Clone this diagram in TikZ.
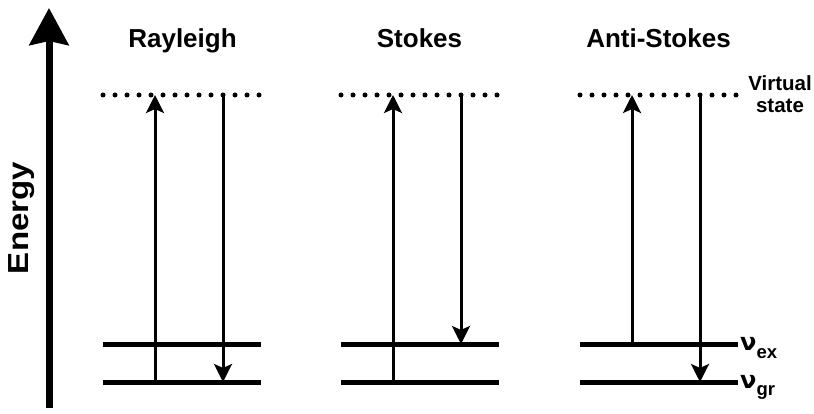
\documentclass[tikz,border=0pt]{standalone}
\usepackage{fontspec}
\setmainfont{Liberation Sans}
\newfontfamily\nufont{DejaVu Sans}
\usetikzlibrary{arrows.meta}
\begin{document}
\begin{tikzpicture}[x=1pt,y=-1pt,
  level/.style={line width=5pt},
  vstate/.style={line width=5pt, line cap=round, dash pattern=on 0pt off 12pt},
  trans/.style={line width=3pt, -{Stealth[length=18pt,width=18pt,inset=4pt]}},
  axis/.style={line width=7pt, -{Stealth[length=37pt,width=39pt,inset=4pt]}},
  title/.style={font=\fontsize{26}{30}\selectfont\bfseries, anchor=base, inner sep=0pt},
  small/.style={font=\fontsize{20.5}{24}\selectfont\bfseries, anchor=base, inner sep=0pt},
  nulab/.style={font=\fontsize{18.5}{22}\selectfont\bfseries, anchor=base west, inner sep=0pt},
]
\useasboundingbox (0,0) rectangle (814,414);
% energy axis
\coordinate (ebot) at (49,408);
\coordinate (etop) at (49,8);
\draw[axis] (ebot) -- (etop);
\node[rotate=90, anchor=base, inner sep=0pt, font=\fontsize{29}{32}\selectfont\bfseries] (energy) at (28,218) {\scalebox{1.14}[1]{Energy}};
% level coordinates
\foreach \n/\x in {R/103, S/341, A/580} {
  \coordinate (\n-vl) at (\x,95);
  \coordinate (\n-vr) at (\x+157,95);
  \coordinate (\n-el) at (\x,344);
  \coordinate (\n-er) at (\x+158,344);
  \coordinate (\n-gl) at (\x,382);
  \coordinate (\n-gr) at (\x+158,382);
  \coordinate (\n-u) at (\x+52,95);
  \coordinate (\n-d) at (\x+120,95);
}
\foreach \n in {R,S,A} {
  \draw[vstate] (\n-vl) -- (\n-vr);
  \draw[level] (\n-el) -- (\n-er);
  \draw[level] (\n-gl) -- (\n-gr);
}
% Rayleigh
\draw[trans] (R-u |- R-gl) -- (R-u);
\draw[trans] (R-d) -- (R-d |- R-gl);
% Stokes
\draw[trans] (S-u |- S-gl) -- (S-u);
\draw[trans] (S-d) -- (S-d |- S-el);
% Anti-Stokes
\draw[trans] (A-u |- A-el) -- (A-u);
\draw[trans] (A-d) -- (A-d |- A-gl);
% titles
\node[title] (tR) at (182.5,48) {Rayleigh};
\node[title] (tS) at (419.5,48) {Stokes};
\node[title] (tA) at (658.5,48) {Anti-Stokes};
\node[small] (v1) at (780,91) {Virtual};
\node[small] (v2) at (780,113) {state};
\node[nulab] (nex) at (740,350) {{\nufont\fontsize{24}{28}\selectfont\bfseries ν}\raisebox{-8pt}{ex}};
\node[nulab] (ngr) at (740,388) {{\nufont\fontsize{24}{28}\selectfont\bfseries ν}\raisebox{-7pt}{gr}};
\end{tikzpicture}
\end{document}
